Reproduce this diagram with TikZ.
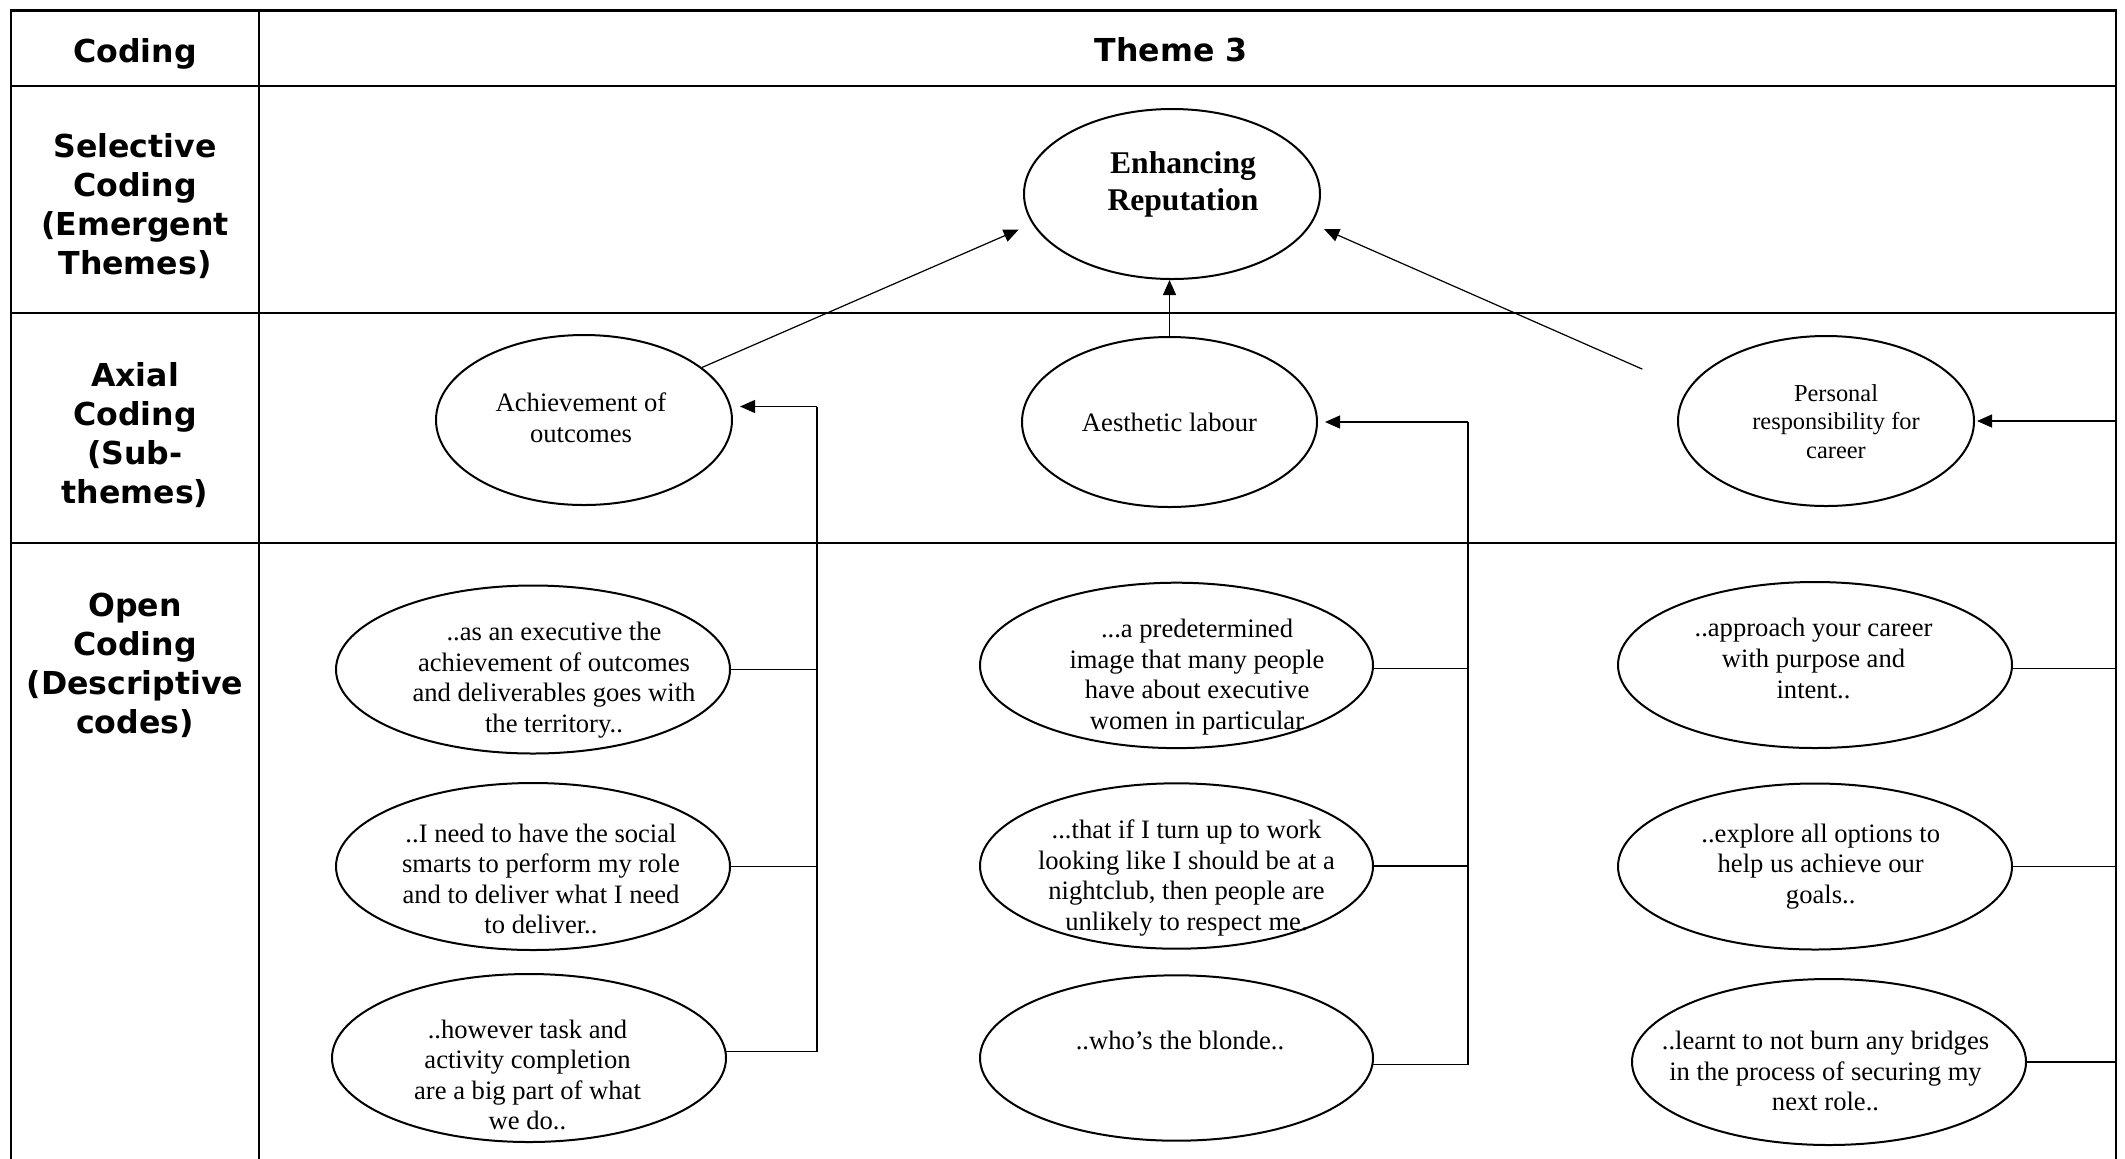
\documentclass[tikz,border=0pt]{standalone}
\usepackage{fontspec}
\setmainfont{Liberation Serif}
\newfontfamily\labelsans{DejaVu Sans}
\usetikzlibrary{shapes.geometric,arrows.meta}
\tikzset{
  tableline/.style={line width=1.2pt, line cap=rect},
  oval/.style={draw, ellipse, line width=1pt, inner sep=0pt},
  quote/.style={align=center, inner sep=0pt, font=\fontsize{13.3pt}{15.3pt}\selectfont},
  subquote/.style={align=center, inner sep=0pt, font=\fontsize{12.2pt}{14.25pt}\selectfont},
  themequote/.style={align=center, inner sep=0pt, font=\bfseries\fontsize{15.8pt}{18.5pt}\selectfont},
  rowlabel/.style={align=center, inner sep=0pt, font=\labelsans\bfseries\fontsize{15.8pt}{19.5pt}\selectfont},
  link/.style={line width=0.6pt},
  arr/.style={link, -{Triangle[length=7.5pt,width=6.5pt]}},
}
\begin{document}
\begin{tikzpicture}[x=0.5pt,y=-0.5pt]
\useasboundingbox (0,0) rectangle (2125,1158);

% table grid
\draw[tableline] (11,1158) -- (11,10.5) -- (2116,10.5) -- (2116,1158);
\draw[tableline] (259,10.5) -- (259,1158);
\draw[tableline] (11,86) -- (2116,86);
\draw[tableline] (11,313) -- (2116,313);
\draw[tableline] (11,543) -- (2116,543);

% row and column headings
\node[rowlabel] (hcoding) at (135,54) {Coding};
\node[rowlabel] (htheme) at (1171,50) {Theme 3};
\node[rowlabel] (lsel) at (135,206.5) {Selective\\Coding\\(Emergent\\Themes)};
\node[rowlabel] (laxial) at (135,435) {Axial\\Coding\\(Sub-\\themes)};
\node[rowlabel] (lopen) at (135,665) {Open\\Coding\\(Descriptive\\codes)};

% emergent theme
\node[oval, minimum width=148pt, minimum height=85pt] (enh) at (1172,194) {};
\node[themequote] (enht) at (1183,184.5) {Enhancing\\Reputation};

% sub-themes
\node[oval, minimum width=148pt, minimum height=85pt] (ach) at (584,420) {};
\node[quote] (acht) at (581,418) {Achievement of\\outcomes};
\node[oval, minimum width=147.5pt, minimum height=85pt] (aes) at (1169.5,422) {};
\node[quote] (aest) at (1169.5,422.7) {Aesthetic labour};
\node[oval, minimum width=148pt, minimum height=85pt] (pers) at (1826,421) {};
\node[subquote] (perst) at (1836,421.3) {Personal\\responsibility for\\career};

% descriptive codes, first column
\node[oval, minimum width=197pt, minimum height=84pt] (a1) at (533,669.5) {};
\node[quote] (a1t) at (554,680) {..as an executive the\\achievement of outcomes\\and deliverables goes with\\the territory..};
\node[oval, minimum width=197pt, minimum height=83.5pt] (a2) at (533,866.5) {};
\node[quote] (a2t) at (541,879) {..I need to have the social\\smarts to perform my role\\and to deliver what I need\\to deliver..};
\node[oval, minimum width=197pt, minimum height=84pt] (a3) at (529,1058) {};
\node[quote] (a3t) at (527.5,1075) {..however task and\\activity completion\\are a big part of what\\we do..};

% descriptive codes, second column
\node[oval, minimum width=196.5pt, minimum height=82.7pt] (b1) at (1176.5,665.4) {};
\node[quote] (b1t) at (1197,677) {...a predetermined\\image that many people\\have about executive\\women in particular};
\node[oval, minimum width=196.5pt, minimum height=82.7pt] (b2) at (1176.5,866) {};
\node[quote] (b2t) at (1186.5,878) {...that if I turn up to work\\looking like I should be at a\\nightclub, then people are\\unlikely to respect me.};
\node[oval, minimum width=196.5pt, minimum height=82.7pt] (b3) at (1176.5,1058) {};
\node[quote] (b3t) at (1180,1040) {..who’s the blonde..};

% descriptive codes, third column
\node[oval, minimum width=197pt, minimum height=83pt] (c1) at (1815,665) {};
\node[quote] (c1t) at (1813.5,658.5) {..approach your career\\with purpose and\\intent..};
\node[oval, minimum width=197pt, minimum height=83pt] (c2) at (1815,866.5) {};
\node[quote] (c2t) at (1820.7,866.5) {..explore all options to\\help us achieve our\\goals..};
\node[oval, minimum width=197pt, minimum height=83pt] (c3) at (1829,1062) {};
\node[quote] (c3t) at (1825.5,1071) {..learnt to not burn any bridges\\in the process of securing my\\next role..};

% junctions of the bracket connectors
\coordinate (jA) at (817,406.5);
\coordinate (jB) at (1468,422);
\coordinate (jC) at (2116,421);

% sub-themes feed the emergent theme
\draw[arr, shorten >=7.4pt] (ach.24.5) -- (enh.192.3);
\draw[arr] (aes.north) -- (aes.north |- enh.south);
\draw[arr, shorten <=24.75pt, shorten >=6.75pt] (pers.167.1) -- (enh.-12.45);

% descriptive codes feed their sub-theme
\draw[link] (a1.east) -- (a1.east -| jA)
            (a2.east) -- (a2.east -| jA)
            (a3.2.5) -- (a3.2.5 -| jA) -- (jA);
\draw[arr, shorten >=3.5pt] (jA) -- (jA -| ach.east);

\draw[link] (b1.-1.7) -- (b1.-1.7 -| jB)
            (b2.east) -- (b2.east -| jB)
            (b3.-2) -- (b3.-2 -| jB) -- (jB);
\draw[arr, shorten >=3.5pt] (jB) -- (aes.east);

\draw[link] (c1.-1.7) -- (c1.-1.7 -| jC)
            (c2.east) -- (c2.east -| jC)
            (c3.east) -- (c3.east -| jC);
\draw[arr, shorten >=1pt] (jC) -- (pers.east);
\end{tikzpicture}
\end{document}
